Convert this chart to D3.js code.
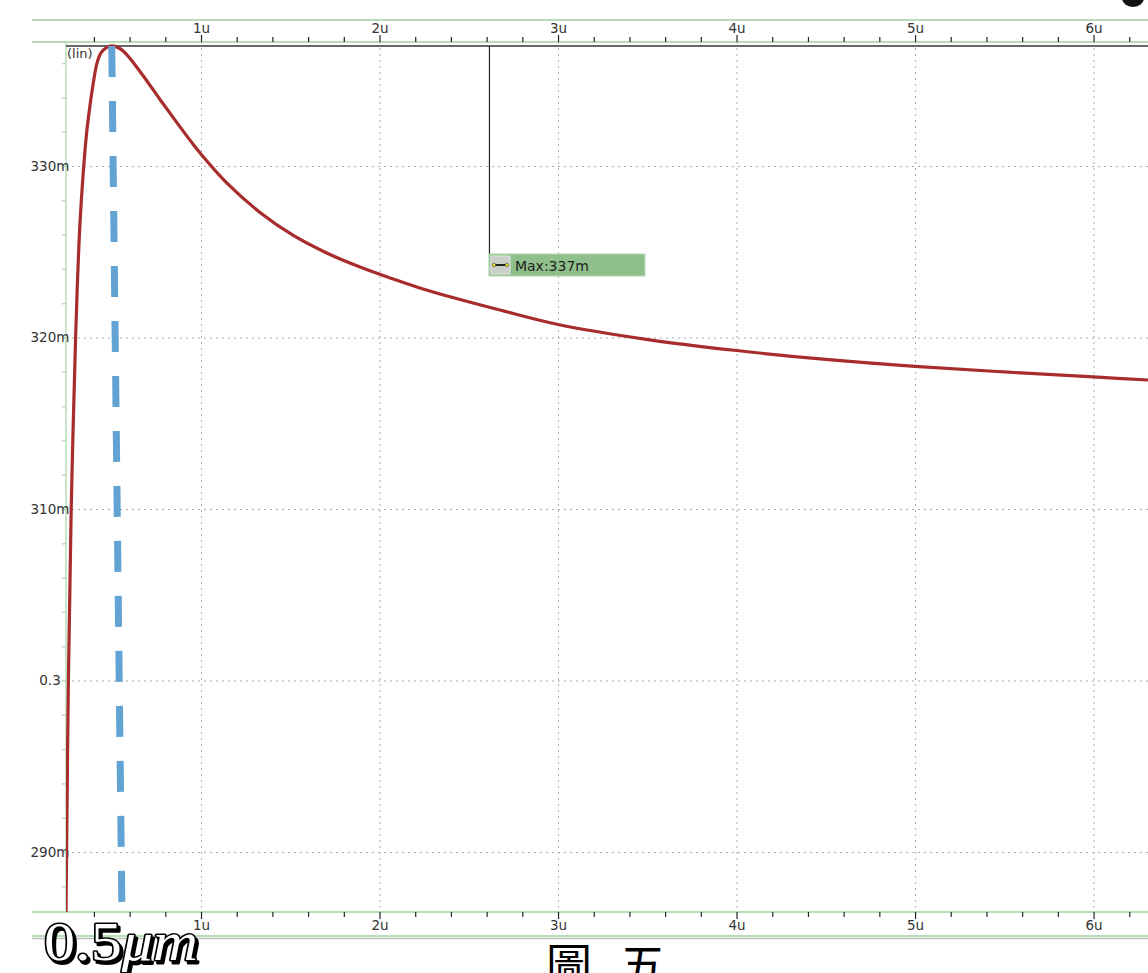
<!DOCTYPE html>
<html>
<head>
<meta charset="utf-8">
<script src="https://cdn.jsdelivr.net/npm/d3@7"></script>
<style>
  body { margin: 0; background: #fff; }
  svg { display: block; }
</style>
</head>
<body>
<svg id="chart"></svg>
<script>
const width = 1148;
const height = 973;

// courbe (x en u, y en m)
const xVals = [0.2437, 0.2471, 0.2571, 0.2728, 0.2975, 0.3098, 0.3221, 0.3401, 0.3591, 0.3770,
               0.3966, 0.4174, 0.4398, 0.47, 0.5014, 0.54, 0.5838, 0.6768, 0.7703, 0.8639,
               0.9569, 1.0039, 1.144, 1.3305, 1.517, 1.704, 1.891, 2.077, 2.217, 2.4,
               2.675, 3.0, 3.504, 4.0, 4.5, 5.0, 5.5, 6.0, 6.305];
const yVals = [286.5, 290, 300, 310, 320, 323.76, 326.68, 329.59, 331.92, 333.44,
               334.84, 336.0, 336.59, 336.9, 337, 336.88, 336.5, 335.25, 333.88, 332.54,
               331.25, 330.64, 329.01, 327.29, 325.95, 324.93, 324.11, 323.41, 322.92, 322.36,
               321.6, 320.76, 319.88, 319.24, 318.72, 318.31, 317.99, 317.7, 317.52];

const xTicks = [1, 2, 3, 4, 5, 6];
const xTickLabels = ["1u", "2u", "3u", "4u", "5u", "6u"];
const yTicks = [290, 300, 310, 320, 330];
const yTickLabels = ["290m", "0.3", "310m", "320m", "330m"];

const maxValue = 337;
const maxLabel = "Max:337m";
const markerX = 2.613;
const guideX = [0.5, 0.557]; // ligne bleue en pointillés

const green = "#b8dcb8";
const pLeft = 66, pRight = 1148, pTop = 42, pBottom = 912;

const x = d3.scaleLinear().domain([0.2437, 6.305]).range([pLeft, pRight]);
const y = d3.scaleLinear().domain([286.5, 337.23]).range([pBottom, pTop]);

const svg = d3.select("#chart")
    .attr("width", width)
    .attr("height", height)
    .style("font-family", "DejaVu Sans, sans-serif");

svg.append("rect").attr("width", width).attr("height", height).attr("fill", "#fff");

// petite forme noire coupée en haut à droite
svg.append("ellipse")
    .attr("cx", 1133).attr("cy", -2).attr("rx", 11).attr("ry", 9)
    .attr("fill", "#111");

svg.append("defs").append("clipPath").attr("id", "plot")
  .append("rect")
    .attr("x", pLeft).attr("y", pTop)
    .attr("width", pRight - pLeft).attr("height", pBottom - pTop);

// grille
const grid = svg.append("g")
    .attr("stroke", "#aaa")
    .attr("stroke-width", 1)
    .attr("stroke-dasharray", "2,4");

grid.selectAll(".vx")
  .data(xTicks)
  .join("line")
    .attr("x1", d => x(d) + 0.5).attr("x2", d => x(d) + 0.5)
    .attr("y1", pTop).attr("y2", pBottom);

grid.selectAll(".hy")
  .data(yTicks)
  .join("line")
    .attr("x1", pLeft).attr("x2", pRight)
    .attr("y1", d => y(d) + 0.5).attr("y2", d => y(d) + 0.5);

// cadres verts
const frame = svg.append("g").attr("stroke", green).attr("stroke-width", 2);
frame.append("line").attr("x1", 32).attr("x2", width).attr("y1", 20).attr("y2", 20);
frame.append("line").attr("x1", 32).attr("x2", width).attr("y1", pTop).attr("y2", pTop);
frame.append("line").attr("x1", 32).attr("x2", width).attr("y1", pBottom).attr("y2", pBottom);
frame.append("line").attr("x1", 32).attr("x2", width).attr("y1", 936).attr("y2", 936);
svg.append("line").attr("x1", 32).attr("x2", width).attr("y1", 938.5).attr("y2", 938.5)
    .attr("stroke", "#bbb").attr("stroke-width", 1.5);
frame.append("line").attr("x1", pLeft).attr("x2", pLeft).attr("y1", pTop).attr("y2", pBottom)
    .attr("stroke-width", 1.5);

// axes x (haut et bas)
const minorX = d3.range(0.4, 6.31, 0.2).map(v => Math.round(v * 10) / 10);
const fmtX = d => xTickLabels[xTicks.indexOf(d)] || "";

const axTop = d3.axisTop(x)
    .tickValues(minorX)
    .tickSize(5)
    .tickFormat(fmtX);
const axBottom = d3.axisBottom(x)
    .tickValues(minorX)
    .tickSize(5)
    .tickFormat(fmtX);

svg.append("g")
    .attr("transform", `translate(0,${pTop})`)
    .call(axTop)
    .call(g => g.select(".domain").remove())
    .call(g => g.selectAll(".tick line").attr("stroke", "#222").attr("stroke-width", 1.2)
        .attr("y2", d => xTicks.includes(d) ? -7 : -5))
    .call(g => g.selectAll(".tick text").attr("fill", "#333").attr("font-size", 13.5)
        .attr("font-family", "DejaVu Sans, sans-serif").attr("y", -9));

svg.append("g")
    .attr("transform", `translate(0,${pBottom})`)
    .call(axBottom)
    .call(g => g.select(".domain").remove())
    .call(g => g.selectAll(".tick line").attr("stroke", "#222").attr("stroke-width", 1.2)
        .attr("y2", d => xTicks.includes(d) ? 7 : 5))
    .call(g => g.selectAll(".tick text").attr("fill", "#333").attr("font-size", 13.5)
        .attr("font-family", "DejaVu Sans, sans-serif").attr("y", 8));

// axe y
const minorY = d3.range(288, 337, 2);
svg.append("g")
    .attr("transform", `translate(${pLeft},0)`)
    .call(d3.axisLeft(y).tickValues(minorY).tickSize(4).tickFormat(""))
    .call(g => g.select(".domain").remove())
    .call(g => g.selectAll(".tick line").attr("stroke", green).attr("stroke-width", 1.5));

svg.append("g")
    .selectAll("text")
    .data(yTicks)
    .join("text")
      .attr("x", 50)
      .attr("y", d => y(d) + 5)
      .attr("text-anchor", "middle")
      .attr("font-size", 13.5)
      .attr("fill", "#333")
      .text((d, i) => yTickLabels[i]);

// ligne du maximum
svg.append("line")
    .attr("x1", pLeft).attr("x2", pRight)
    .attr("y1", y(maxValue)).attr("y2", y(maxValue))
    .attr("stroke", "#333").attr("stroke-width", 1.5);

svg.append("text")
    .attr("x", 67).attr("y", 58)
    .attr("font-size", 13)
    .attr("fill", "#333")
    .text("(lin)");

// courbe
const data = xVals.map((v, i) => [v, yVals[i]]);
const line = d3.line()
    .x(d => x(d[0]))
    .y(d => y(d[1]))
    .curve(d3.curveCatmullRom.alpha(0.5));

svg.append("path")
    .datum(data)
    .attr("clip-path", "url(#plot)")
    .attr("fill", "none")
    .attr("stroke", "#a82c2c")
    .attr("stroke-width", 3.2)
    .attr("stroke-linejoin", "round")
    .attr("d", line);

// ligne bleue
svg.append("line")
    .attr("x1", x(guideX[0])).attr("y1", y(maxValue))
    .attr("x2", x(guideX[1])).attr("y2", pBottom)
    .attr("stroke", "#62a3d3")
    .attr("stroke-width", 7)
    .attr("stroke-dasharray", "31 24");

// marqueur Max
const mx = x(markerX);
svg.append("line")
    .attr("x1", mx + 0.5).attr("x2", mx + 0.5)
    .attr("y1", y(maxValue)).attr("y2", 254)
    .attr("stroke", "#222").attr("stroke-width", 1.2);

const box = svg.append("g").attr("transform", `translate(${mx},254)`);
box.append("rect")
    .attr("width", 156).attr("height", 22)
    .attr("fill", "#8fbf8a").attr("stroke", "#b5d8b0");
box.append("rect")
    .attr("x", 2).attr("y", 2).attr("width", 19).attr("height", 18)
    .attr("fill", "#c9cec7").attr("stroke", "#e6e6e6");
box.append("line")
    .attr("x1", 5).attr("x2", 18).attr("y1", 11).attr("y2", 11)
    .attr("stroke", "#222").attr("stroke-width", 2);
box.selectAll("circle")
  .data([5, 18])
  .join("circle")
    .attr("cx", d => d).attr("cy", 11).attr("r", 1.8)
    .attr("fill", "#e8e030").attr("stroke", "#333").attr("stroke-width", 0.5);
box.append("text")
    .attr("x", 26).attr("y", 16.5)
    .attr("font-size", 14)
    .attr("fill", "#222")
    .text(maxLabel);

// annotations
function label05(g, dx, fill, sw) {
  const t = g.append("text")
      .attr("x", 44 + dx).attr("y", 960 + dx)
      .attr("font-family", "Liberation Serif, DejaVu Serif, serif")
      .attr("font-size", 54)
      .attr("textLength", 154)
      .attr("lengthAdjust", "spacingAndGlyphs")
      .attr("fill", fill)
      .attr("stroke", "#000")
      .attr("stroke-width", sw)
      .attr("stroke-linejoin", "round")
      .attr("paint-order", "stroke");
  t.append("tspan").text("0.5");
  t.append("tspan").attr("font-style", "italic").text("μm");
}
const annG = svg.append("g");
label05(annG, 2.5, "#000", 3);
label05(annG, 0, "#fff", 3);

svg.append("text")
    .attr("x", 546).attr("y", 982)
    .attr("font-family", "Noto Sans CJK TC, sans-serif")
    .attr("font-size", 46)
    .attr("letter-spacing", 28)
    .attr("fill", "#000")
    .text("圖五");
</script>
</body>
</html>
